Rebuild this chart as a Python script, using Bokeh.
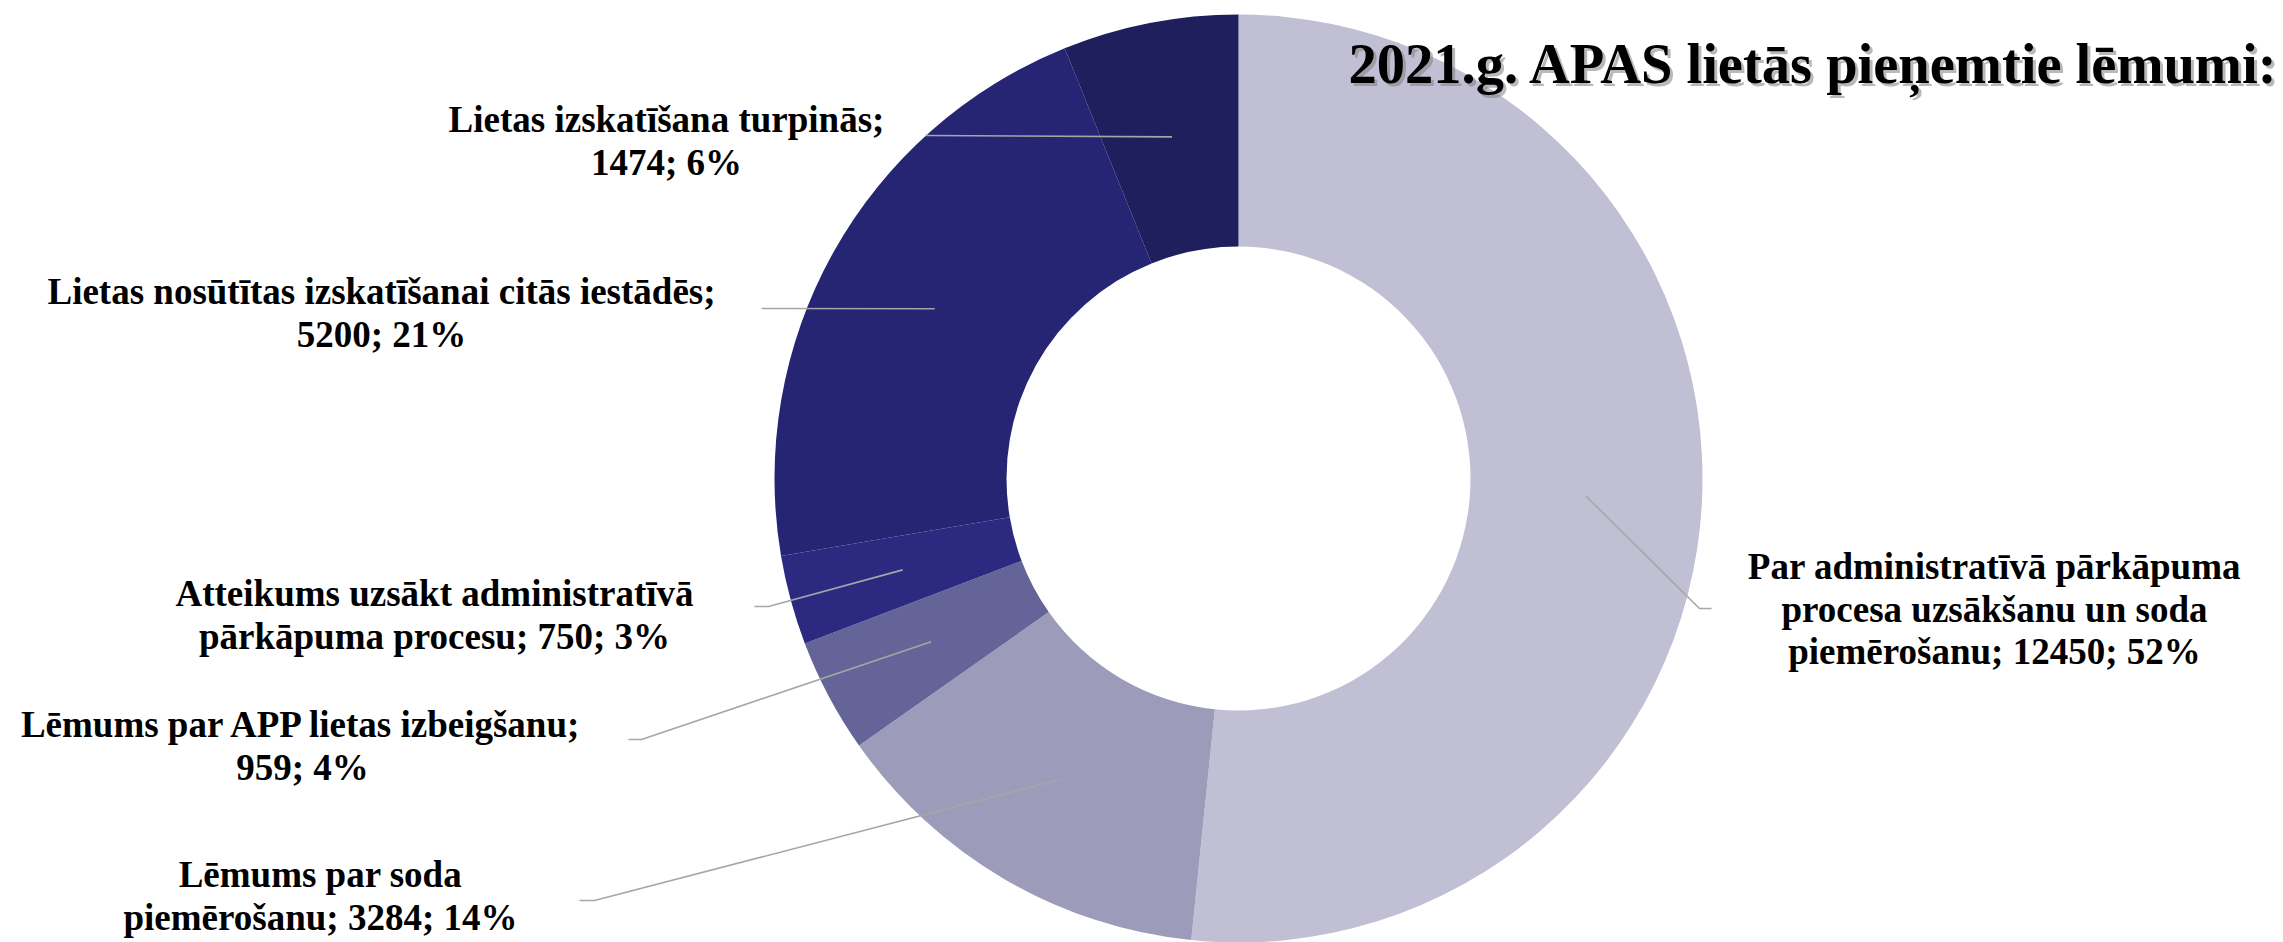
import numpy as np
from bokeh.plotting import figure
from bokeh.models import ColumnDataSource, Range1d
from bokeh.core.properties import value
from bokeh.embed import file_html
from bokeh.resources import INLINE

# ---------------- data ----------------
title_text = "2021.g. APAS lietās pieņemtie lēmumi:"
categories = [
    "Par administratīvā pārkāpuma procesa uzsākšanu un soda piemērošanu",
    "Lēmums par soda piemērošanu",
    "Lēmums par APP lietas izbeigšanu",
    "Atteikums uzsākt administratīvā pārkāpuma procesu",
    "Lietas nosūtītas izskatīšanai citās iestādēs",
    "Lietas izskatīšana turpinās",
]
counts = [12450, 3284, 959, 750, 5200, 1474]
percent_labels = [52, 14, 4, 3, 21, 6]
colors = ["#C0BFD3", "#9C9CBA", "#646499", "#2B2A80", "#252574", "#1F1F5E"]

# ---------------- layout (page pixel coordinates) ----------------
W, H = 2283, 942
def Y(py):
    return H - py

CX, CY = 1238, Y(478)
R_IN, R_OUT = 232, 464
R_MID = (R_IN + R_OUT) / 2

words_per_line = [[3, 4, 3], [3, 3], [5, 2], [3, 4], [5, 2], [3, 2]]
label_cx = [1994, 320, 302, 434, 381, 666]
label_base = [566, 874, 724, 593, 291, 119]
LINE_H = 42.5
leader_elbow = [(1699, 608), (594, 900), (641, 739), (768, 606), (761, 308), (925, 135)]
leader_end = [(1711, 608), (579, 900), (628, 739), (754, 606), (761, 308), (925, 135)]

FONT = value("Liberation Serif")

p = figure(width=W, height=H, output_backend="svg", toolbar_location=None,
           x_range=Range1d(0, W), y_range=Range1d(0, H),
           min_border=0)
p.axis.visible = False
p.grid.visible = False
p.outline_line_color = None
p.background_fill_color = "white"
p.border_fill_color = "white"

total = float(sum(counts))
fr = np.array(counts) / total
cum_after = np.cumsum(fr)
cum_before = cum_after - fr
start = np.pi / 2 - 2 * np.pi * cum_before
end = np.pi / 2 - 2 * np.pi * cum_after

src = ColumnDataSource(dict(start=start, end=end, color=colors))
p.annular_wedge(x=CX, y=CY, inner_radius=R_IN, outer_radius=R_OUT,
                start_angle="start", end_angle="end", direction="clock",
                fill_color="color", line_color=None, source=src)

# leader lines
mid = np.pi / 2 - 2 * np.pi * (cum_before + fr / 2)
xs, ys = [], []
for i in range(len(counts)):
    sx = CX + R_MID * np.cos(mid[i])
    sy = CY + R_MID * np.sin(mid[i])
    ex, ey = leader_elbow[i]
    fx, fy = leader_end[i]
    xs.append([sx, ex, fx])
    ys.append([sy, Y(ey), Y(fy)])
p.multi_line(xs=xs, ys=ys, line_color="#A6A6A6", line_width=1.6)

# labels
tx, ty, tt = [], [], []
for i, name in enumerate(categories):
    full = f"{name}; {counts[i]}; {percent_labels[i]}%"
    words = full.split(" ")
    k = 0
    for j, n in enumerate(words_per_line[i]):
        tt.append(" ".join(words[k:k + n]))
        k += n
        tx.append(label_cx[i])
        ty.append(Y(label_base[i] + j * LINE_H))
p.text(x=tx, y=ty, text=tt, text_font=FONT, text_font_style="bold",
       text_font_size="37px", text_align="center", text_baseline="alphabetic",
       text_color="black")

# title with shadow
p.text(x=[1351], y=[Y(66)], text=[title_text], text_font=FONT, text_font_style="bold",
       text_font_size="56.5px", text_align="left", text_baseline="alphabetic",
       text_color="#808080", text_alpha=0.55)
p.text(x=[1348], y=[Y(63)], text=[title_text], text_font=FONT, text_font_style="bold",
       text_font_size="56.5px", text_align="left", text_baseline="alphabetic",
       text_color="black")

open("out.html", "w").write(file_html(p, INLINE))
